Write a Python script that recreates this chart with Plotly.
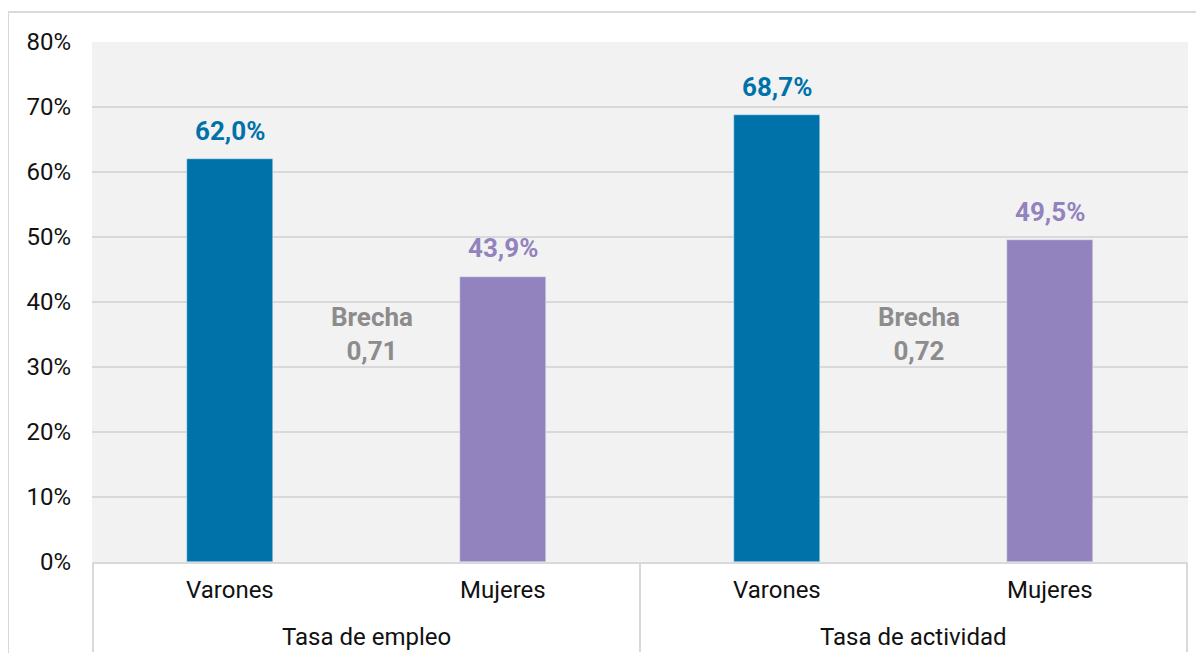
import plotly.graph_objects as go

groups = ["Tasa de empleo", "Tasa de empleo", "Tasa de actividad", "Tasa de actividad"]
sexes = ["Varones", "Mujeres", "Varones", "Mujeres"]
values = [62.0, 43.9, 68.7, 49.5]
brecha = [0.71, 0.72]
y_ticks = [0, 10, 20, 30, 40, 50, 60, 70, 80]
y_tick_labels = [f"{v}%" for v in y_ticks]

BLUE = "#0072AA"
PURPLE = "#9283BE"
GRAY = "#8C8C8C"
TXT = "#111111"
LINE = "#D9D9D9"
FONT = "Roboto"
colors = [BLUE if s == "Varones" else PURPLE for s in sexes]

fig = go.Figure()
fig.add_trace(go.Bar(
    x=[groups, sexes], y=values, marker_color=colors, width=0.315,
    hoverinfo="skip", showlegend=False,
))

# value labels
for i, v in enumerate(values):
    fig.add_annotation(
        x=i, y=v, xref="x", yref="y", yanchor="middle", yshift=28.5,
        text="<b>" + f"{v:.1f}".replace(".", ",") + "%</b>", showarrow=False,
        font=dict(family=FONT, size=26, color=colors[i]),
    )
# gap labels
for j, b in enumerate(brecha):
    fig.add_annotation(
        x=2 * j + 0.52, y=35.1, xref="x", yref="y", yanchor="middle",
        text="<b>Brecha<br>" + f"{b:.2f}".replace(".", ",") + "</b>", showarrow=False,
        font=dict(family=FONT, size=26, color=GRAY),
    )
# category labels (two levels)
for i, s in enumerate(sexes):
    fig.add_annotation(
        x=i, y=-0.0538, xref="x", yref="paper", yanchor="middle",
        text=s, showarrow=False, font=dict(family=FONT, size=24, color=TXT),
    )
group_names = [groups[0], groups[2]]
for j, g in enumerate(group_names):
    fig.add_annotation(
        x=2 * j + 0.5, y=-0.144, xref="x", yref="paper", yanchor="middle",
        text=g, showarrow=False, font=dict(family=FONT, size=24, color=TXT),
    )
# dividers below the axis
for xd in [-0.5, 1.5, 3.5]:
    fig.add_shape(type="line", xref="x", yref="paper", x0=xd, x1=xd, y0=0, y1=-0.173,
                  line=dict(color=LINE, width=2))

# outer frame
fig.add_shape(type="line", xref="paper", yref="paper", x0=-0.0766, x1=1.03, y0=1.0577, y1=1.0577,
              line=dict(color=LINE, width=2))
fig.add_shape(type="line", xref="paper", yref="paper", x0=-0.0766, x1=-0.0766, y0=1.0577, y1=-0.175,
              line=dict(color=LINE, width=2))

fig.update_layout(
    width=1204, height=658,
    margin=dict(l=84, r=24, t=34, b=104),
    paper_bgcolor="white", plot_bgcolor="#F2F2F2",
    font=dict(family=FONT, size=24, color=TXT),
    bargap=0,
)
fig.update_yaxes(
    range=[0, 80], tickvals=y_ticks, ticktext=y_tick_labels, gridcolor=LINE, gridwidth=2,
    zeroline=False, showline=False, ticks="", tickfont=dict(family=FONT, size=24, color=TXT),
    ticklabelstandoff=20,
)
fig.update_xaxes(
    type="multicategory", showline=True, linecolor=LINE, linewidth=2,
    showdividers=False, showticklabels=False, ticks="",
)

fig.write_html("out.html")
